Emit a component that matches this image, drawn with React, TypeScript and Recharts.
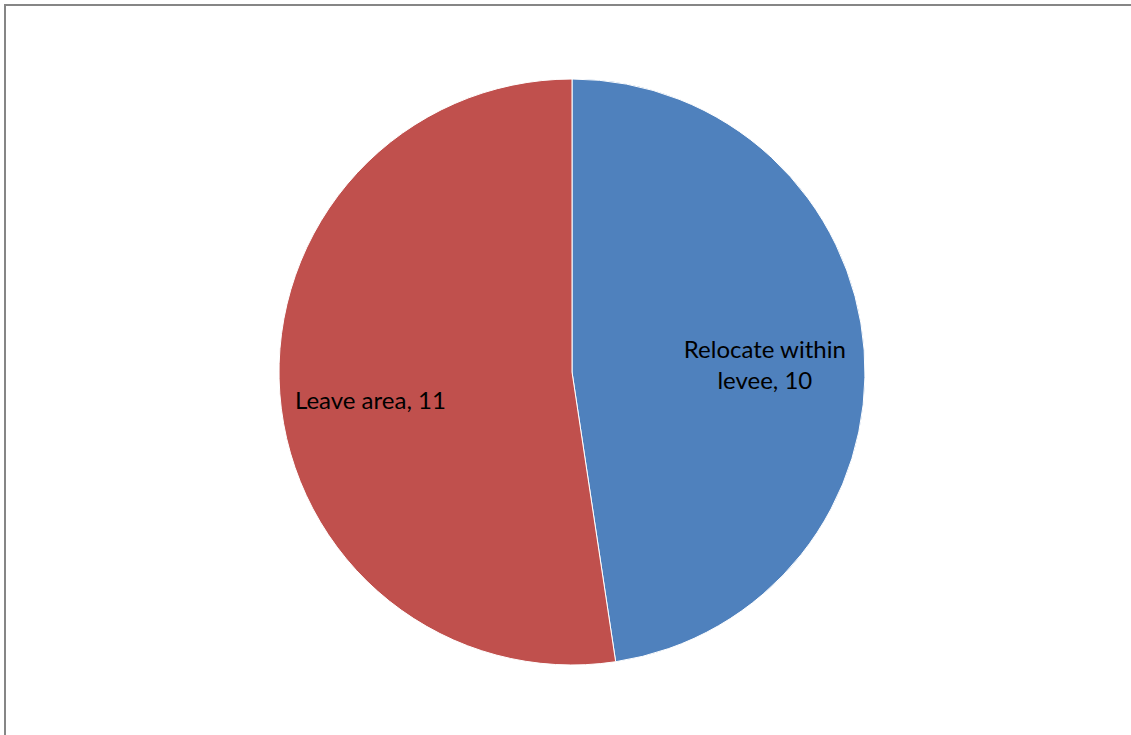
import React from "react";
import { PieChart, Pie, Cell } from "recharts";

const categories = ["Relocate within levee", "Leave area"];
const labelLines = [["Relocate within", "levee, 10"], ["Leave area, 11"]];
const values = [10, 11];
const colors = ["#4F81BD", "#C0504D"];

const data = categories.map((name, i) => ({ name, value: values[i] }));

const RADIAN = Math.PI / 180;

const renderLabel = (props: any) => {
  const { cx, cy, midAngle, outerRadius, index } = props;
  const r = outerRadius * (index === 0 ? 0.66 : 0.69);
  const x = cx + r * Math.cos(-midAngle * RADIAN);
  const y = cy + r * Math.sin(-midAngle * RADIAN);
  const lines = labelLines[index];
  const lh = 31;
  const startY = y - ((lines.length - 1) * lh) / 2 + (index === 1 ? 12 : 6);
  return (
    <text
      x={x}
      y={startY}
      textAnchor="middle"
      dominantBaseline="central"
      fill="#000"
      fontSize={24}
      fontFamily="Lato, 'Open Sans', sans-serif"
    >
      {lines.map((l, i) => (
        <tspan key={i} x={x} y={startY + i * lh}>
          {l}
        </tspan>
      ))}
    </text>
  );
};

export default function App() {
  return (
    <div style={{ position: "absolute", left: 0, top: 0, width: 1131, height: 735, background: "#fff", overflow: "hidden" }}>
      <div
        style={{
          position: "absolute",
          left: 4,
          top: 4,
          width: 1140,
          height: 740,
          borderTop: "2px solid #868686",
          borderLeft: "2px solid #868686",
        }}
      />
      <div style={{ position: "absolute", left: 0, top: 0 }}>
        <PieChart width={1131} height={735} margin={{ top: 0, right: 0, bottom: 0, left: 0 }}>
          <Pie
            data={data}
            dataKey="value"
            nameKey="name"
            cx={572}
            cy={372}
            outerRadius={293}
            startAngle={90}
            endAngle={-270}
            stroke="#ffffff"
            strokeWidth={1}
            label={renderLabel}
            labelLine={false}
            isAnimationActive={false}
          >
            {data.map((d, i) => (
              <Cell key={d.name} fill={colors[i]} />
            ))}
          </Pie>
        </PieChart>
      </div>
    </div>
  );
}
